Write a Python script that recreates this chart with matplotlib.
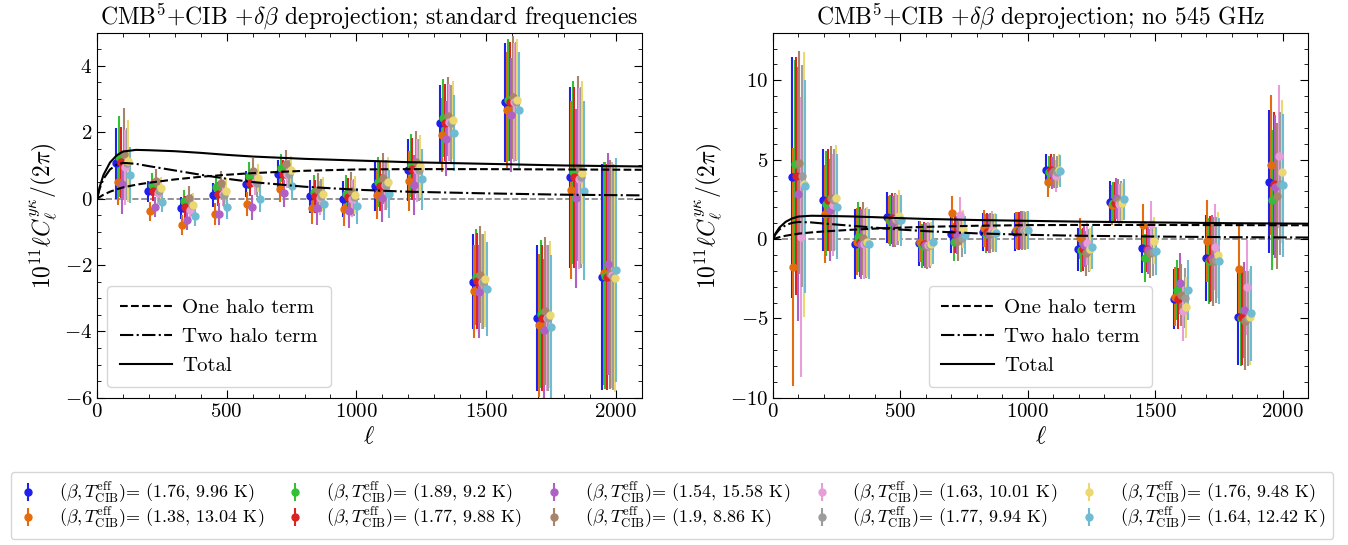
import numpy as np
import matplotlib
matplotlib.use('Agg')
import matplotlib.pyplot as plt
from matplotlib.ticker import MultipleLocator

plt.rcParams['font.family'] = 'serif'
plt.rcParams['font.serif'] = ['cmr10', 'DejaVu Serif']
plt.rcParams['mathtext.fontset'] = 'cm'
plt.rcParams['axes.formatter.use_mathtext'] = True

# bin centres and horizontal offsets of the 10 SED choices
ell_bins = [100, 225, 350, 475, 600, 725, 850, 975, 1100, 1225, 1350, 1475, 1600, 1725, 1850, 1975]
ell_offsets = [-27, -21, -15, -9, -3, 3, 9, 15, 21, 27]

betas = ['1.76', '1.38', '1.89', '1.77', '1.54', '1.9', '1.63', '1.77', '1.76', '1.64']
temps = ['9.96', '13.04', '9.2', '9.88', '15.58', '8.86', '10.01', '9.94', '9.48', '12.42']
colors = ['#1f1fee', '#e36c0e', '#35bf35', '#dd2222', '#b060c4', '#a8846a',
          '#e89ed8', '#9c9c9c', '#ecd872', '#6fbcd2']

# halo model curves
model_ell = [0, 10, 25, 50, 75, 100, 150, 200, 300, 400, 500, 600, 800, 1000, 1200, 1500, 1800, 2100]
one_halo = [0, 0.05, 0.12, 0.21, 0.28, 0.34, 0.42, 0.48, 0.58, 0.66, 0.72, 0.77, 0.84, 0.88, 0.89, 0.89, 0.88, 0.87]
two_halo = [0, 0.30, 0.60, 0.88, 1.02, 1.08, 1.05, 0.98, 0.85, 0.72, 0.60, 0.50, 0.36, 0.27, 0.21, 0.16, 0.12, 0.10]
total = [0, 0.35, 0.72, 1.09, 1.30, 1.42, 1.47, 1.46, 1.43, 1.38, 1.32, 1.27, 1.20, 1.15, 1.10, 1.05, 1.00, 0.97]

# standard frequencies
left_y = [
    [1.07, 0.22, -0.28, 0.11, 0.44, 0.74, 0.07, -0.01, 0.39, 0.87, 2.27, -2.50, 2.90, -3.60, 0.64, -2.35],
    [0.51, -0.38, -0.80, -0.46, -0.16, 0.29, -0.28, -0.31, 0.12, 0.54, 1.91, -2.79, 2.67, -3.82, 0.27, -2.25],
    [1.27, 0.42, -0.08, 0.34, 0.69, 0.92, 0.19, 0.14, 0.51, 1.01, 2.43, -2.37, 2.97, -3.47, 0.79, -2.32],
    [1.09, 0.24, -0.24, 0.14, 0.47, 0.74, 0.07, 0.06, 0.39, 0.89, 2.28, -2.48, 2.92, -3.60, 0.64, -2.35],
    [0.44, -0.24, -0.64, -0.46, -0.26, 0.16, -0.29, -0.36, 0.01, 0.42, 1.81, -2.80, 2.52, -3.97, 0.01, -1.96],
    [1.34, 0.54, 0.01, 0.46, 0.82, 1.04, 0.26, 0.22, 0.61, 1.09, 2.48, -2.29, 3.05, -3.37, 0.91, -2.27],
    [0.94, 0.16, -0.35, 0.15, 0.50, 0.75, 0.02, 0.00, 0.40, 0.85, 2.30, -2.50, 2.90, -3.60, 0.60, -2.30],
    [1.07, 0.22, -0.20, 0.12, 0.46, 0.74, 0.09, 0.04, 0.42, 0.86, 2.27, -2.50, 2.92, -3.60, 0.64, -2.37],
    [1.14, 0.32, -0.19, 0.24, 0.62, 0.86, 0.14, 0.11, 0.49, 0.98, 2.37, -2.42, 2.98, -3.49, 0.78, -2.39],
    [0.71, -0.09, -0.51, -0.26, -0.01, 0.37, -0.16, -0.23, 0.14, 0.59, 1.98, -2.72, 2.67, -3.87, 0.24, -2.15],
]
left_err = [
    [1.07, 0.32, 0.33, 0.36, 0.40, 0.42, 0.50, 0.55, 0.75, 0.94, 1.16, 1.44, 1.80, 2.20, 2.73, 3.40],
    [0.70, 0.28, 0.30, 0.33, 0.37, 0.40, 0.48, 0.52, 0.72, 0.90, 1.12, 1.40, 1.75, 2.15, 2.68, 3.35],
    [1.23, 0.34, 0.35, 0.37, 0.41, 0.43, 0.51, 0.56, 0.76, 0.95, 1.18, 1.45, 1.83, 2.22, 2.75, 3.42],
    [1.08, 0.32, 0.33, 0.36, 0.40, 0.42, 0.50, 0.55, 0.75, 0.94, 1.16, 1.44, 1.80, 2.20, 2.73, 3.40],
    [0.90, 0.30, 0.31, 0.34, 0.38, 0.41, 0.49, 0.53, 0.72, 0.90, 1.12, 1.40, 1.73, 2.15, 2.70, 3.35],
    [1.39, 0.35, 0.36, 0.38, 0.42, 0.44, 0.52, 0.57, 0.77, 0.96, 1.19, 1.46, 1.85, 2.23, 2.78, 3.45],
    [1.13, 0.33, 0.34, 0.36, 0.40, 0.42, 0.50, 0.55, 0.75, 0.94, 1.16, 1.44, 1.80, 2.20, 2.73, 3.40],
    [1.07, 0.32, 0.33, 0.36, 0.40, 0.42, 0.50, 0.55, 0.75, 0.94, 1.16, 1.44, 1.80, 2.20, 2.73, 3.40],
    [1.24, 0.34, 0.35, 0.37, 0.41, 0.43, 0.51, 0.56, 0.76, 0.95, 1.17, 1.45, 1.82, 2.21, 2.75, 3.42],
    [0.85, 0.31, 0.32, 0.35, 0.39, 0.41, 0.49, 0.54, 0.73, 0.92, 1.14, 1.42, 1.75, 2.17, 2.70, 3.38],
]

# no 545 GHz
right_y = [
    [3.88, 2.45, -0.31, 1.36, -0.27, 0.31, 0.42, 0.46, 4.38, -0.65, 2.35, -0.55, -3.79, -1.21, -4.92, 3.60],
    [-1.74, 1.57, -0.17, 1.20, -0.17, 1.62, 0.67, 0.55, 3.57, 0.04, 2.14, 0.88, -3.63, -0.13, -1.89, 4.65],
    [4.76, 2.24, 0.14, 1.15, -0.45, -0.17, 0.35, 0.50, 4.23, -0.70, 2.30, -1.18, -3.20, -1.40, -5.00, 2.45],
    [3.98, 2.45, -0.17, 1.30, -0.30, 0.31, 0.45, 0.50, 4.38, -0.65, 2.30, -0.60, -3.75, -1.25, -4.90, 3.50],
    [2.81, 1.82, -0.30, 1.10, -0.40, 0.25, 0.35, 0.55, 4.17, -0.38, 2.56, -0.70, -2.79, -1.21, -4.47, 3.29],
    [4.82, 2.56, 0.04, 1.20, -0.45, -0.10, 0.40, 0.55, 4.28, -0.90, 2.45, -0.90, -3.52, -1.40, -5.14, 2.72],
    [0.14, 2.14, -0.30, 1.25, -0.35, 1.51, 0.55, 0.60, 3.98, -0.27, 2.20, 0.92, -4.53, -0.48, -3.04, 5.22],
    [3.98, 2.45, -0.25, 1.20, -0.40, 0.10, 0.40, 0.50, 4.23, -0.70, 2.35, -0.80, -3.70, -1.30, -5.00, 3.50],
    [3.45, 2.60, -0.17, 1.47, -0.30, 0.61, 0.45, 0.55, 4.38, -0.65, 2.25, -0.10, -4.30, -1.00, -4.90, 4.23],
    [3.33, 2.03, -0.33, 1.19, -0.20, 0.25, 0.40, 0.57, 4.30, -0.52, 2.50, -0.75, -3.20, -1.36, -4.67, 3.40],
]
right_err = [
    [7.6, 3.2, 2.2, 1.6, 1.4, 1.2, 1.2, 1.2, 1.0, 1.35, 1.3, 1.6, 1.9, 2.7, 3.0, 4.5],
    [7.5, 3.1, 2.1, 1.5, 1.3, 1.1, 1.15, 1.15, 0.9, 1.3, 1.25, 1.35, 1.85, 2.6, 2.9, 4.4],
    [6.5, 3.3, 2.2, 1.6, 1.4, 1.2, 1.2, 1.2, 1.0, 1.35, 1.3, 1.5, 1.9, 2.7, 3.0, 4.4],
    [7.5, 3.2, 2.2, 1.6, 1.4, 1.2, 1.2, 1.2, 1.0, 1.35, 1.3, 1.5, 1.9, 2.7, 3.0, 4.5],
    [8.0, 3.2, 2.2, 1.6, 1.4, 1.2, 1.2, 1.2, 1.0, 1.35, 1.3, 1.5, 1.9, 2.7, 3.0, 4.5],
    [7.0, 3.3, 2.3, 1.7, 1.45, 1.25, 1.25, 1.25, 1.05, 1.4, 1.35, 1.55, 1.95, 2.8, 3.1, 4.6],
    [8.8, 3.2, 2.2, 1.6, 1.4, 1.15, 1.2, 1.2, 1.0, 1.35, 1.3, 1.5, 1.9, 2.7, 3.0, 4.5],
    [7.0, 3.2, 2.2, 1.6, 1.4, 1.2, 1.2, 1.2, 1.0, 1.35, 1.3, 1.5, 1.9, 2.7, 3.0, 4.5],
    [8.35, 3.3, 2.2, 1.6, 1.4, 1.2, 1.2, 1.2, 1.0, 1.35, 1.3, 1.5, 1.9, 2.7, 3.0, 4.5],
    [6.7, 3.3, 2.2, 1.6, 1.4, 1.2, 1.2, 1.2, 1.0, 1.35, 1.3, 1.5, 1.9, 2.7, 3.0, 4.5],
]

fig = plt.figure(figsize=(13.48, 5.45), dpi=100)
ax1 = fig.add_axes([0.072, 0.270, 0.404, 0.670])
ax2 = fig.add_axes([0.5734, 0.270, 0.397, 0.670])

panels = [
    (ax1, left_y, left_err, r'CMB$^5$+CIB $+\delta\beta$ deprojection; standard frequencies', (-6, 5), 2, 0.5, 'lower left'),
    (ax2, right_y, right_err, r'CMB$^5$+CIB $+\delta\beta$ deprojection; no 545 GHz', (-10, 13), 5, 1, 'lower center'),
]

ell = np.array(ell_bins)
for ax, ys, errs, title, ylim, major, minor, lloc in panels:
    ax.axhline(0, color='gray', ls='--', lw=1.2, zorder=1)
    for k in range(len(colors)):
        ax.errorbar(ell + ell_offsets[k], ys[k], yerr=errs[k], fmt='o', ms=5,
                    color=colors[k], elinewidth=1.5, capsize=0, zorder=2,
                    label=r'$(\beta, T_{\rm CIB}^{\rm eff})$= (' + betas[k] + ', ' + temps[k] + ' K)')
    l1, = ax.plot(model_ell, one_halo, 'k--', lw=1.5, zorder=3)
    l2, = ax.plot(model_ell, two_halo, 'k-.', lw=1.5, zorder=3)
    l3, = ax.plot(model_ell, total, 'k-', lw=1.5, zorder=3)
    ax.legend([l1, l2, l3], ['One halo term', 'Two halo term', 'Total'], loc=lloc,
              fontsize=15, handlelength=2.5, handletextpad=0.5, borderpad=0.6, labelspacing=0.5)
    ax.set_xlim(0, 2100)
    ax.set_ylim(*ylim)
    ax.xaxis.set_major_locator(MultipleLocator(500))
    ax.xaxis.set_minor_locator(MultipleLocator(100))
    ax.yaxis.set_major_locator(MultipleLocator(major))
    ax.yaxis.set_minor_locator(MultipleLocator(minor))
    ax.tick_params(which='both', direction='in', top=True, right=True, labelsize=15)
    ax.tick_params(which='major', length=6)
    ax.tick_params(which='minor', length=3)
    ax.set_title(title, fontsize=17)
    ax.set_xlabel(r'$\ell$', fontsize=18)
    ax.set_ylabel(r'$10^{11}\ell C_\ell^{y\kappa}/(2\pi)$', fontsize=17)

handles, labels = ax1.get_legend_handles_labels()
fig.legend(handles, labels, loc='lower center', bbox_to_anchor=(0.4985, -0.006), ncol=5,
           fontsize=13, handlelength=1.0, handletextpad=1.2, columnspacing=1.25,
           labelspacing=0.02, borderpad=0.45)

fig.savefig('out.png', dpi=100)
